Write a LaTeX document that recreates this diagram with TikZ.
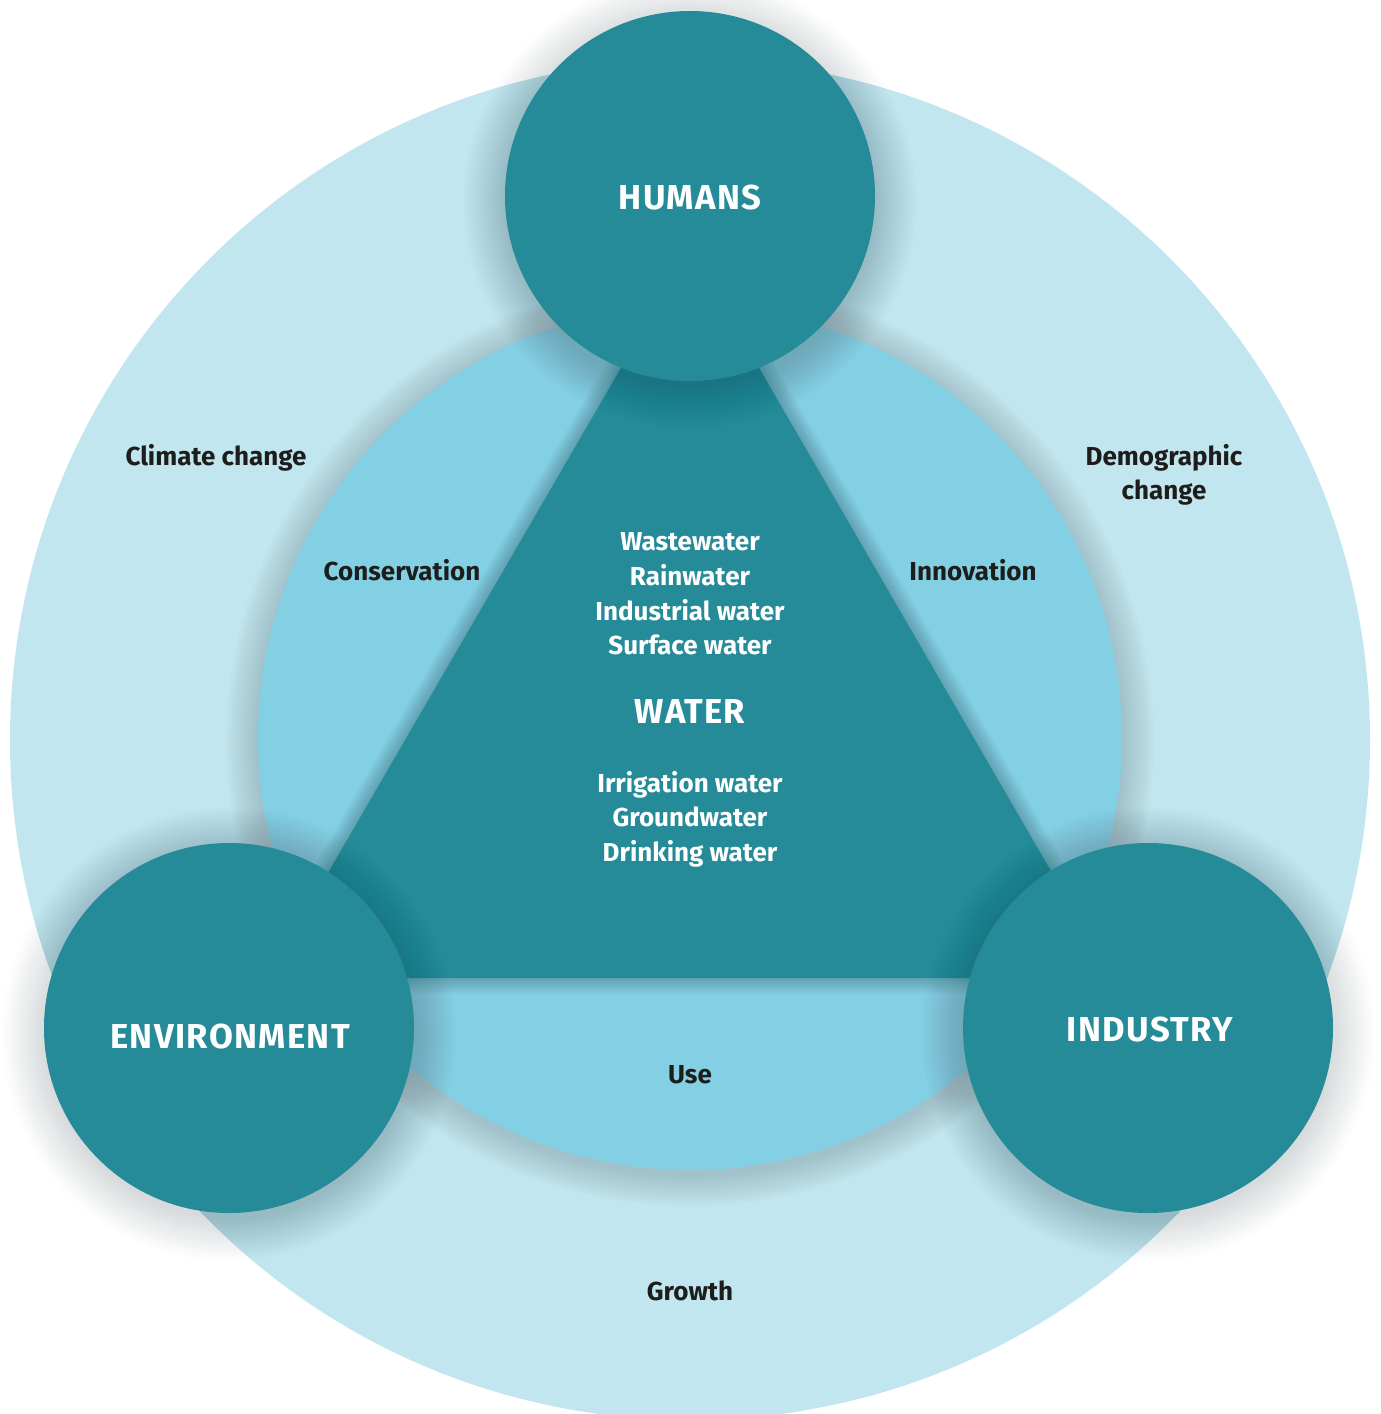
\documentclass[tikz,border=0pt]{standalone}
\usepackage{fontspec}
\setmainfont{Fira Sans}
\definecolor{outerc}{HTML}{C1E6EF}
\definecolor{innerc}{HTML}{83CFE3}
\definecolor{tealc}{HTML}{268B99}
\definecolor{textc}{HTML}{1D1D1B}
\definecolor{shadc}{HTML}{1A3038}
\tikzset{
  bigcircle/.style={fill=tealc},
  headlabel/.style={text=white, font=\fontsize{17.3}{20}\selectfont\bfseries, align=center},
  listlabel/.style={text=white, font=\fontsize{13}{17.3}\selectfont\bfseries, align=center},
  darklabel/.style={text=textc, font=\fontsize{13}{17}\selectfont\bfseries, align=center},
}
\begin{document}
\begin{tikzpicture}[x=0.5pt,y=-0.5pt]
\useasboundingbox (0,0) rectangle (1381,1414);
\clip (0,0) rectangle (1381,1414);
% outer ring
\fill[outerc] (690,740) circle[radius=680];
% inner circle shadow
\foreach \k in {1,...,16}{\fill[shadc,opacity=0.013] (690,742) circle[radius=432+2*\k];}
\fill[innerc] (690,738) circle[radius=432];
% triangle
\coordinate (ta) at (690,249);
\coordinate (tl) at (267,978);
\coordinate (tr) at (1113,978);
\foreach \k in {1,...,16}{\draw[shadc,opacity=0.014,line width=2*\k*0.5pt,line join=round] (ta) -- (tl) -- (tr) -- cycle;}
\fill[tealc] (ta) -- (tl) -- (tr) -- cycle;
% circle shadows
\foreach \c in {(690,202),(229,1034),(1148,1034)}{
  \foreach \k in {1,...,22}{\fill[shadc,opacity=0.0085] \c circle[radius=183+2*\k];}
}
\node[bigcircle, circle, minimum size=185pt, inner sep=0pt] (hum) at (690,196) {};
\node[bigcircle, circle, minimum size=185pt, inner sep=0pt] (env) at (229,1028) {};
\node[bigcircle, circle, minimum size=185pt, inner sep=0pt] (ind) at (1148,1028) {};
% labels
\node[headlabel] (humt) at (690,198) {\addfontfeature{LetterSpace=4}HUMANS};
\node[headlabel] (envt) at (230,1036) {\addfontfeature{LetterSpace=4}ENVIRONMENT};
\node[headlabel] (indt) at (1150,1029) {\addfontfeature{LetterSpace=4}INDUSTRY};
\node[headlabel] (wat) at (690,712) {\addfontfeature{LetterSpace=3}WATER};
\node[listlabel] (up) at (690,594) {Wastewater\\Rainwater\\Industrial water\\Surface water};
\node[listlabel] (low) at (690,819) {Irrigation water\\Groundwater\\Drinking water};
\node[darklabel] (cc) at (216,458) {Climate change};
\node[darklabel] (dc) at (1164,475) {Demographic\\change};
\node[darklabel] (cons) at (402,570) {Conservation};
\node[darklabel] (inn) at (973,570) {Innovation};
\node[darklabel] (use) at (690,1075) {Use};
\node[darklabel] (gro) at (690,1291) {Growth};
\end{tikzpicture}
\end{document}
